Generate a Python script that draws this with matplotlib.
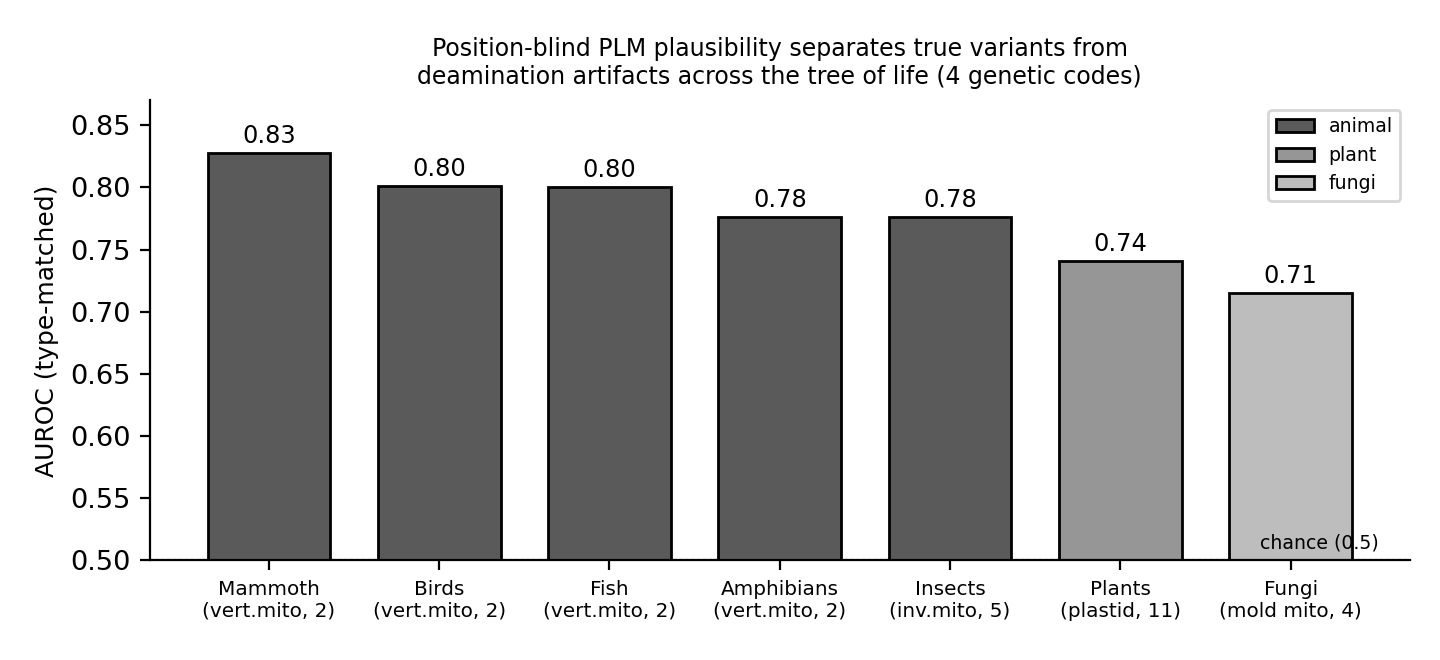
import matplotlib
matplotlib.use("Agg")
import matplotlib.pyplot as plt
from matplotlib.patches import Patch

categories = ["Mammoth\n(vert.mito, 2)", "Birds\n(vert.mito, 2)", "Fish\n(vert.mito, 2)",
              "Amphibians\n(vert.mito, 2)", "Insects\n(inv.mito, 5)", "Plants\n(plastid, 11)",
              "Fungi\n(mold mito, 4)"]
auroc = [0.828, 0.801, 0.800, 0.776, 0.776, 0.741, 0.715]
groups = ["animal", "animal", "animal", "animal", "animal", "plant", "fungi"]
group_colors = {"animal": "#5a5a5a", "plant": "#969696", "fungi": "#bdbdbd"}

fig, ax = plt.subplots(figsize=(7.2, 3.3), dpi=200)
x = list(range(len(categories)))
bars = ax.bar(x, auroc, width=0.72, color=[group_colors[g] for g in groups],
              edgecolor="black", linewidth=1.0, zorder=2)
for xi, v in zip(x, auroc):
    ax.text(xi, v + 0.004, f"{v:.2f}", ha="center", va="bottom", fontsize=8.7)

ax.axhline(0.5, color="gray", ls=":", lw=0.8, zorder=1)
ax.text(0.975, 0.018, "chance (0.5)", transform=ax.transAxes, ha="right", va="bottom",
        fontsize=6.8, zorder=3)

ax.set_xticks(x)
ax.set_xticklabels(categories, fontsize=7.2)
ax.set_ylim(0.5, 0.87)
ax.set_xlim(-0.7, 6.7)
ax.tick_params(axis="y", labelsize=9.8)
ax.set_ylabel("AUROC (type-matched)", fontsize=9)
ax.set_title("Position-blind PLM plausibility separates true variants from\n"
             "deamination artifacts across the tree of life (4 genetic codes)", fontsize=8.5)
ax.spines["top"].set_visible(False)
ax.spines["right"].set_visible(False)

handles = [Patch(facecolor=group_colors[g], edgecolor="black", label=g) for g in ["animal", "plant", "fungi"]]
ax.legend(handles=handles, fontsize=6.8, loc="upper right")

fig.subplots_adjust(left=0.104, right=0.979, bottom=0.151, top=0.848)
fig.savefig("out.png", dpi=200)
